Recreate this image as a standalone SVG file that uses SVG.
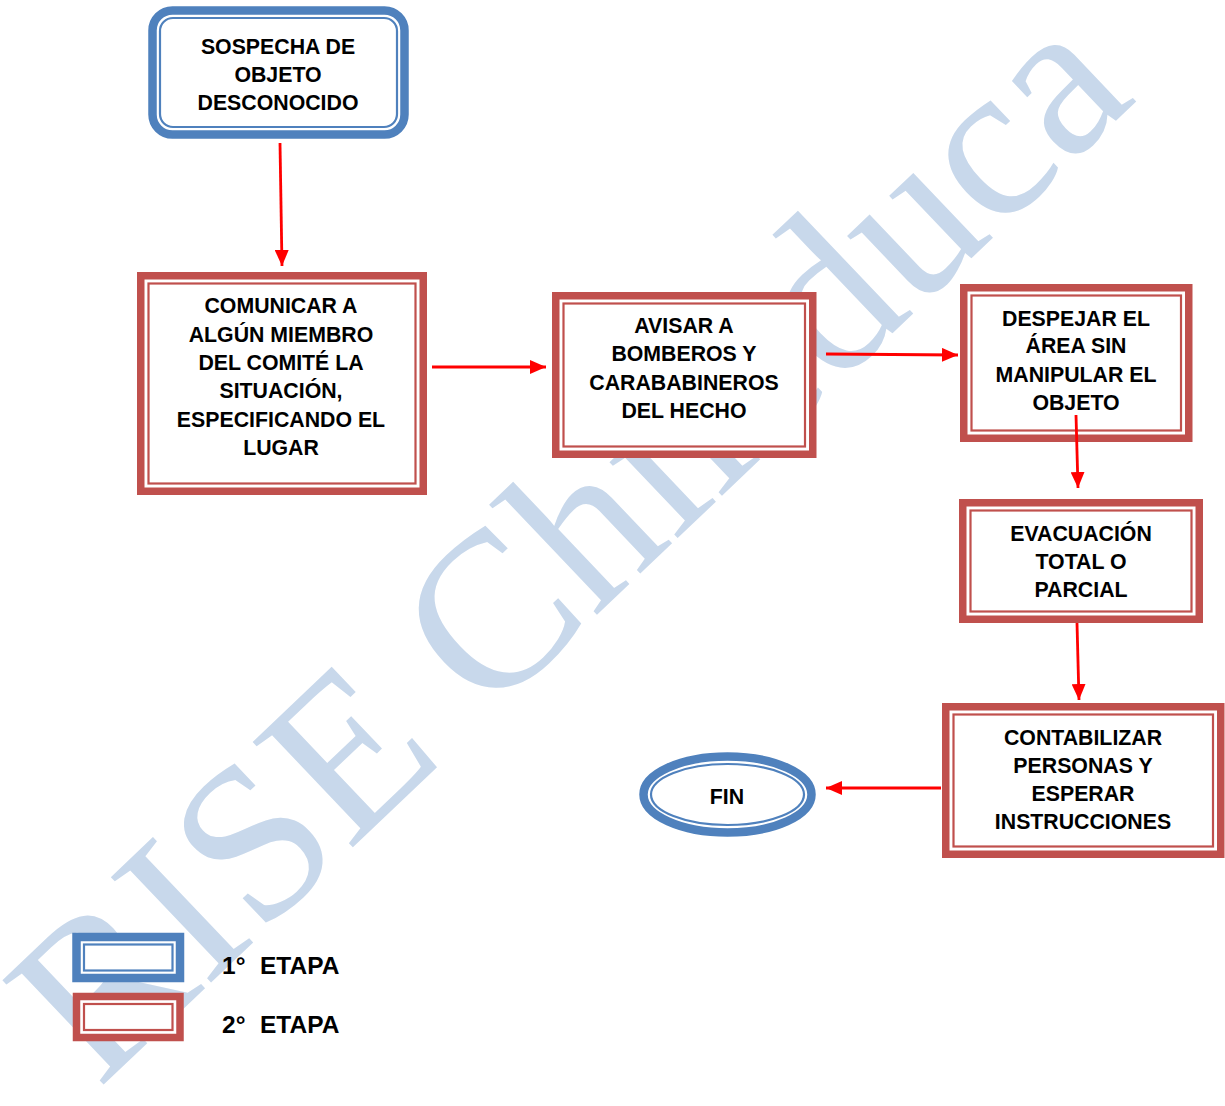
<svg xmlns="http://www.w3.org/2000/svg" width="1225" height="1106" viewBox="0 0 1225 1106">
<defs>
<style>
.bg{fill:#ffffff}
.wm{font-family:"Liberation Serif","Times New Roman",serif;font-size:222px;fill:#C8D8EB}
.rthick{fill:#ffffff;stroke:#C0504D;stroke-width:7.5}
.rthin{fill:none;stroke:#C0504D;stroke-width:2.2}
.bthick{fill:#ffffff;stroke:#4F81BD;stroke-width:8.5}
.bthin{fill:none;stroke:#4F81BD;stroke-width:2.2}
.t{font-family:"Liberation Sans",Arial,sans-serif;font-weight:bold;font-size:21.3px;fill:#000000;text-anchor:middle}
.lg{font-family:"Liberation Sans",Arial,sans-serif;font-weight:bold;font-size:24.5px;fill:#000000}
.c{stroke:#FF0000;stroke-width:2.8;fill:none}
</style>
<marker id="ah" markerUnits="userSpaceOnUse" markerWidth="16" markerHeight="14" viewBox="0 0 16 14" refX="16" refY="7" orient="auto">
<path d="M0,0 L16,7 L0,14 Z" fill="#FF0000"/>
</marker>
</defs>
<rect class="bg" x="0" y="0" width="1225" height="1106"/>
<g id="watermark">
<text class="wm" transform="translate(98,1090) rotate(-43.6)">RISE Chileduca</text>
</g>
<g id="n1">
<rect class="bthick" x="152.5" y="10.5" width="252" height="124" rx="20"/>
<rect class="bthin" x="160" y="18" width="237" height="109" rx="13"/>
<text class="t" x="278" y="54">SOSPECHA DE</text>
<text class="t" x="278" y="82">OBJETO</text>
<text class="t" x="278" y="110">DESCONOCIDO</text>
</g>
<g id="n2">
<rect class="rthick" x="140.75" y="275.75" width="282.5" height="215.5"/>
<rect class="rthin" x="148.5" y="283.5" width="267" height="200"/>
<text class="t" x="281" y="313">COMUNICAR A</text>
<text class="t" x="281" y="342">ALGÚN MIEMBRO</text>
<text class="t" x="281" y="370">DEL COMITÉ LA</text>
<text class="t" x="281" y="398">SITUACIÓN,</text>
<text class="t" x="281" y="427">ESPECIFICANDO EL</text>
<text class="t" x="281" y="455">LUGAR</text>
</g>
<g id="n3">
<rect class="rthick" x="555.75" y="295.75" width="257" height="158.5"/>
<rect class="rthin" x="563.5" y="303.5" width="241.5" height="143"/>
<text class="t" x="684" y="333">AVISAR A</text>
<text class="t" x="684" y="361">BOMBEROS Y</text>
<text class="t" x="684" y="390">CARABABINEROS</text>
<text class="t" x="684" y="418">DEL HECHO</text>
</g>
<g id="n4">
<rect class="rthick" x="963.75" y="287.75" width="225" height="150.5"/>
<rect class="rthin" x="971.5" y="295.5" width="209.5" height="135"/>
<text class="t" x="1076" y="326">DESPEJAR EL</text>
<text class="t" x="1076" y="353">ÁREA SIN</text>
<text class="t" x="1076" y="382">MANIPULAR EL</text>
<text class="t" x="1076" y="410">OBJETO</text>
</g>
<g id="n5">
<rect class="rthick" x="962.75" y="502.75" width="236.5" height="116.5"/>
<rect class="rthin" x="970.5" y="510.5" width="221" height="101"/>
<text class="t" x="1081" y="541">EVACUACIÓN</text>
<text class="t" x="1081" y="569">TOTAL O</text>
<text class="t" x="1081" y="597">PARCIAL</text>
</g>
<g id="n6">
<rect class="rthick" x="945.75" y="706.75" width="275" height="147.5"/>
<rect class="rthin" x="953.5" y="714.5" width="259.5" height="132"/>
<text class="t" x="1083" y="745">CONTABILIZAR</text>
<text class="t" x="1083" y="773">PERSONAS Y</text>
<text class="t" x="1083" y="801">ESPERAR</text>
<text class="t" x="1083" y="829">INSTRUCCIONES</text>
</g>
<g id="n7">
<ellipse class="bthick" cx="727.5" cy="794.5" rx="84" ry="38"/>
<ellipse class="bthin" cx="727.5" cy="794.5" rx="76.5" ry="30.5"/>
<text class="t" x="727" y="804">FIN</text>
</g>
<g id="connectors">
<line class="c" x1="280" y1="143" x2="282" y2="266" marker-end="url(#ah)"/>
<line class="c" x1="432" y1="367" x2="546" y2="367" marker-end="url(#ah)"/>
<line class="c" x1="826" y1="354" x2="958" y2="355" marker-end="url(#ah)"/>
<line class="c" x1="1076" y1="415" x2="1078" y2="488" marker-end="url(#ah)"/>
<line class="c" x1="1077" y1="623" x2="1079" y2="700" marker-end="url(#ah)"/>
<line class="c" x1="941" y1="788" x2="826" y2="788" marker-end="url(#ah)"/>
</g>
<g id="legend">
<rect class="bthick" x="76.5" y="937" width="103.5" height="41"/>
<rect class="bthin" x="84" y="944.5" width="88.5" height="26"/>
<rect class="rthick" x="76.5" y="996.5" width="103.5" height="41"/>
<rect class="rthin" x="84" y="1004" width="88.5" height="26"/>
<text class="lg" x="222" y="974">1° <tspan x="260">ETAPA</tspan></text>
<text class="lg" x="222" y="1033">2° <tspan x="260">ETAPA</tspan></text>
</g>
</svg>
